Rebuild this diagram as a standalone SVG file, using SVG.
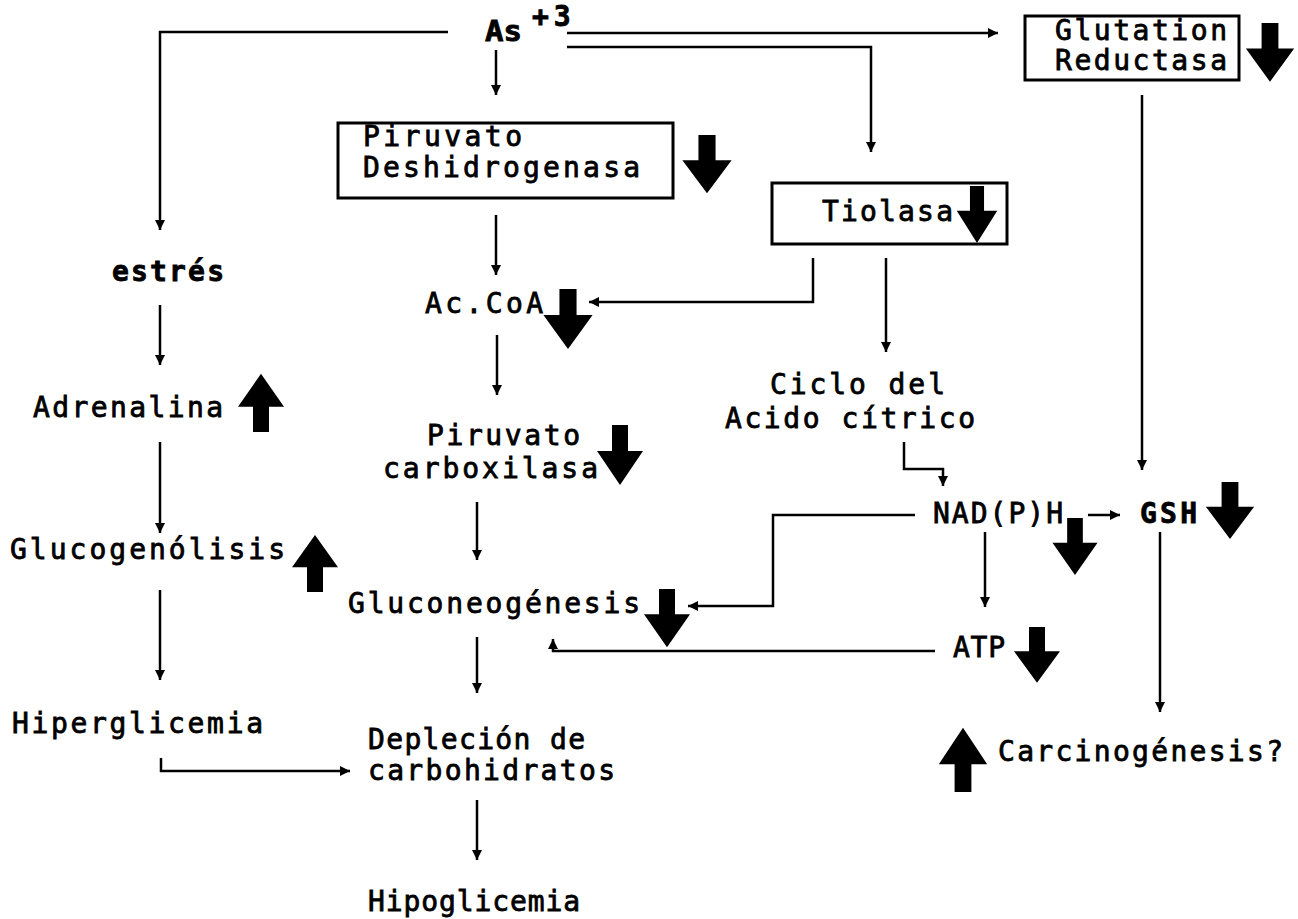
<svg xmlns="http://www.w3.org/2000/svg" xmlns:xlink="http://www.w3.org/1999/xlink" width="1298" height="919" viewBox="0 0 1298 919">
<style>
text{font-family:"DejaVu Sans Mono","Liberation Mono",monospace;font-size:28px;fill:#000;stroke:#000;stroke-width:0.8}
.c{fill:none;stroke:#000;stroke-width:2.5}
.a{marker-end:url(#ah)}
.box{fill:none;stroke:#000;stroke-width:3}
.big{fill:#000}
</style>
<defs>
<marker id="ah" markerUnits="userSpaceOnUse" markerWidth="12" markerHeight="12" refX="10" refY="5" orient="auto">
<path d="M0,0 L10,5 L0,10 z" fill="#000"/>
</marker>
<path id="dn" d="M-8,0 H8 V26 H23 L0,60 L-23,26 H-8 Z"/>
</defs>
<rect width="1298" height="919" fill="#fff"/>

<g id="connectors">
<path class="c a" d="M448,32 H160 V230"/>
<path class="c a" d="M496,50 V95"/>
<path class="c a" d="M567,33 H998"/>
<path class="c a" d="M567,47 H871 V152"/>
<path class="c a" d="M496,215 V275"/>
<path class="c a" d="M813,258 V302 H589"/>
<path class="c a" d="M886,258 V352"/>
<path class="c a" d="M497,335 V395"/>
<path class="c a" d="M477,502 V560"/>
<path class="c a" d="M477,637 V693"/>
<path class="c a" d="M477,800 V860"/>
<path class="c a" d="M160,305 V365"/>
<path class="c a" d="M160,442 V533"/>
<path class="c a" d="M160,590 V680"/>
<path class="c a" d="M161,758 V771 H350"/>
<path class="c a" d="M1142,95 V470"/>
<path class="c a" d="M904,442 V469 H943 V486"/>
<path class="c a" d="M1088,515 H1120"/>
<path class="c a" d="M915,515 H773 V606 H688"/>
<path class="c a" d="M985,532 V607"/>
<path class="c a" d="M935,651 H553 V639"/>
<path class="c a" d="M1160,532 V712"/>
</g>

<g id="as3">
<text x="485" y="41" textLength="37" lengthAdjust="spacingAndGlyphs" font-size="26" font-weight="bold">As</text>
<text x="532" y="26" font-size="15" font-weight="bold" stroke-width="0.3" letter-spacing="5">+3</text>
</g>

<g id="glutation-reductasa">
<rect class="box" x="1025" y="16" width="214" height="64"/>
<text x="1055" y="40" textLength="172" font-size="26">Glutation</text>
<text x="1055" y="70" textLength="172" font-size="26">Reductasa</text>
<use xlink:href="#dn" class="big" transform="translate(1270,23) scale(1.05,0.98)"/>
</g>

<g id="piruvato-deshidrogenasa">
<rect class="box" x="338" y="123" width="335" height="75"/>
<text x="363" y="146" textLength="159" font-size="26">Piruvato</text>
<text x="363" y="177" textLength="277" font-size="26">Deshidrogenasa</text>
<use xlink:href="#dn" class="big" transform="translate(707,135) scale(1.07,0.97)"/>
</g>

<g id="tiolasa">
<rect class="box" x="772" y="183" width="235" height="61"/>
<text x="822" y="221" textLength="131">Tiolasa</text>
<use xlink:href="#dn" class="big" transform="translate(977,186) scale(0.88,0.95)"/>
</g>

<g id="estres">
<text x="112" y="281" textLength="112" font-weight="bold">estrés</text>
</g>

<g id="adrenalina">
<text x="33" y="417" textLength="190">Adrenalina</text>
<use xlink:href="#dn" class="big" transform="translate(261,432) scale(1,-0.97)"/>
</g>

<g id="glucogenolisis">
<text x="10" y="559" textLength="275">Glucogenólisis</text>
<use xlink:href="#dn" class="big" transform="translate(315,592) scale(1,-0.95)"/>
</g>

<g id="hiperglicemia">
<text x="12" y="733" textLength="251">Hiperglicemia</text>
</g>

<g id="accoa">
<text x="425" y="313" textLength="118">Ac.CoA</text>
<use xlink:href="#dn" class="big" transform="translate(568,289) scale(1.07,1)"/>
</g>

<g id="piruvato-carboxilasa">
<text x="427" y="445" textLength="153">Piruvato</text>
<text x="383" y="478" textLength="215">carboxilasa</text>
<use xlink:href="#dn" class="big" transform="translate(620,425) scale(1,1)"/>
</g>

<g id="gluconeogenesis">
<text x="348" y="613" textLength="292">Gluconeogénesis</text>
<use xlink:href="#dn" class="big" transform="translate(667,589) scale(1,0.97)"/>
</g>

<g id="deplecion">
<text x="368" y="749" textLength="217">Depleción de</text>
<text x="368" y="780" textLength="247">carbohidratos</text>
</g>

<g id="hipoglicemia">
<text x="368" y="911" textLength="212">Hipoglicemia</text>
</g>

<g id="ciclo">
<text x="770" y="394" textLength="175">Ciclo del</text>
<text x="725" y="428" textLength="250">Acido cítrico</text>
</g>

<g id="nadph">
<text x="933" y="523" textLength="130" font-size="25" stroke-width="0.4">NAD(P)H</text>
<use xlink:href="#dn" class="big" transform="translate(1075,518) scale(0.98,0.95)"/>
</g>

<g id="gsh">
<text x="1140" y="523" textLength="57" font-weight="bold">GSH</text>
<use xlink:href="#dn" class="big" transform="translate(1230,482) scale(1.05,0.95)"/>
</g>

<g id="atp">
<text x="953" y="657" textLength="52">ATP</text>
<use xlink:href="#dn" class="big" transform="translate(1037,627) scale(1,0.93)"/>
</g>

<g id="carcinogenesis">
<text x="998" y="761" textLength="285" stroke-width="0.3">Carcinogénesis?</text>
<use xlink:href="#dn" class="big" transform="translate(963,792) scale(1.05,-1.07)"/>
</g>
</svg>
